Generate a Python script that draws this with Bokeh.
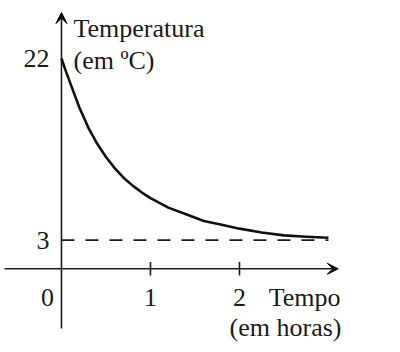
import numpy as np
from bokeh.plotting import figure
from bokeh.models import Arrow, VeeHead, Label
from bokeh.embed import file_html
from bokeh.resources import INLINE

# Data
time_h = [0, 0.05, 0.1, 0.2, 0.3, 0.4, 0.5, 0.6, 0.7, 0.8, 0.9, 1.0, 1.2, 1.4, 1.6, 1.8, 2.0, 2.25, 2.5, 2.75, 3.0]
temp_c = [22, 20.65, 19.4, 16.9, 14.8, 13.1, 11.7, 10.5, 9.5, 8.7, 8.0, 7.4, 6.4, 5.7, 5.0, 4.6, 4.2, 3.8, 3.5, 3.35, 3.25]
asymptote = 3
y_ticks = [22, 3]
x_ticks = [1, 2]
x_tick_labels = ["1", "2"]
origin_label = "0"
y_title = ["Temperatura", "(em \u00baC)"]
x_title = ["Tempo", "(em horas)"]

FONT = "Liberation Serif"
FS = "26px"

p = figure(width=400, height=352, output_backend="svg", toolbar_location=None,
           x_range=(-0.685, 3.809), y_range=(-8.755, 28.065),
           x_axis_location=None, y_axis_location=None, min_border=0)
p.outline_line_color = None
p.grid.visible = False
p.background_fill_color = "white"
p.border_fill_color = "white"

# axes with arrows
p.add_layout(Arrow(end=VeeHead(size=11, fill_color="black", line_color="black", line_width=1),
                   x_start=-0.64, y_start=0, x_end=3.11, y_end=0,
                   line_color="#1a1a1a", line_width=1.6))
p.add_layout(Arrow(end=VeeHead(size=11, fill_color="black", line_color="black", line_width=1),
                   x_start=0, y_start=-6.24, x_end=0, y_end=26.8,
                   line_color="#1a1a1a", line_width=1.6))

# ticks on x axis
p.segment(x0=x_ticks, y0=[-0.7] * len(x_ticks), x1=x_ticks, y1=[0.7] * len(x_ticks),
          line_color="#1a1a1a", line_width=1.6)

# asymptote
p.line([0, time_h[-1]], [asymptote, asymptote], line_color="#1a1a1a", line_width=1.6, line_dash="13 11")

# curve
p.line(time_h, temp_c, line_color="#111111", line_width=2.6, line_join="round")

def lab(**kw):
    base = dict(text_font=FONT, text_font_size=FS, text_color="#1a1a1a", text_baseline="alphabetic")
    base.update(kw)
    p.add_layout(Label(**base))

# y tick labels
for v in y_ticks:
    lab(x=0, y=v, text=str(v), text_align="right", text_baseline="middle", x_offset=-12, y_offset=0)

# x tick labels
for v, t in zip(x_ticks, x_tick_labels):
    lab(x=v, y=0, text=t, text_align="center", y_offset=-29)
lab(x=0, y=0, text=origin_label, text_align="center", x_offset=-14, y_offset=-29)

# axis titles (screen units)
lab(x=73, y=352 - 28, x_units="screen", y_units="screen", text=y_title[0], text_align="left")
lab(x=73, y=352 - 60, x_units="screen", y_units="screen", text=y_title[1], text_align="left")
lab(x=340, y=352 - 297, x_units="screen", y_units="screen", text=x_title[0], text_align="right")
lab(x=341, y=352 - 327, x_units="screen", y_units="screen", text=x_title[1], text_align="right")

open("out.html", "w").write(file_html(p, INLINE))
